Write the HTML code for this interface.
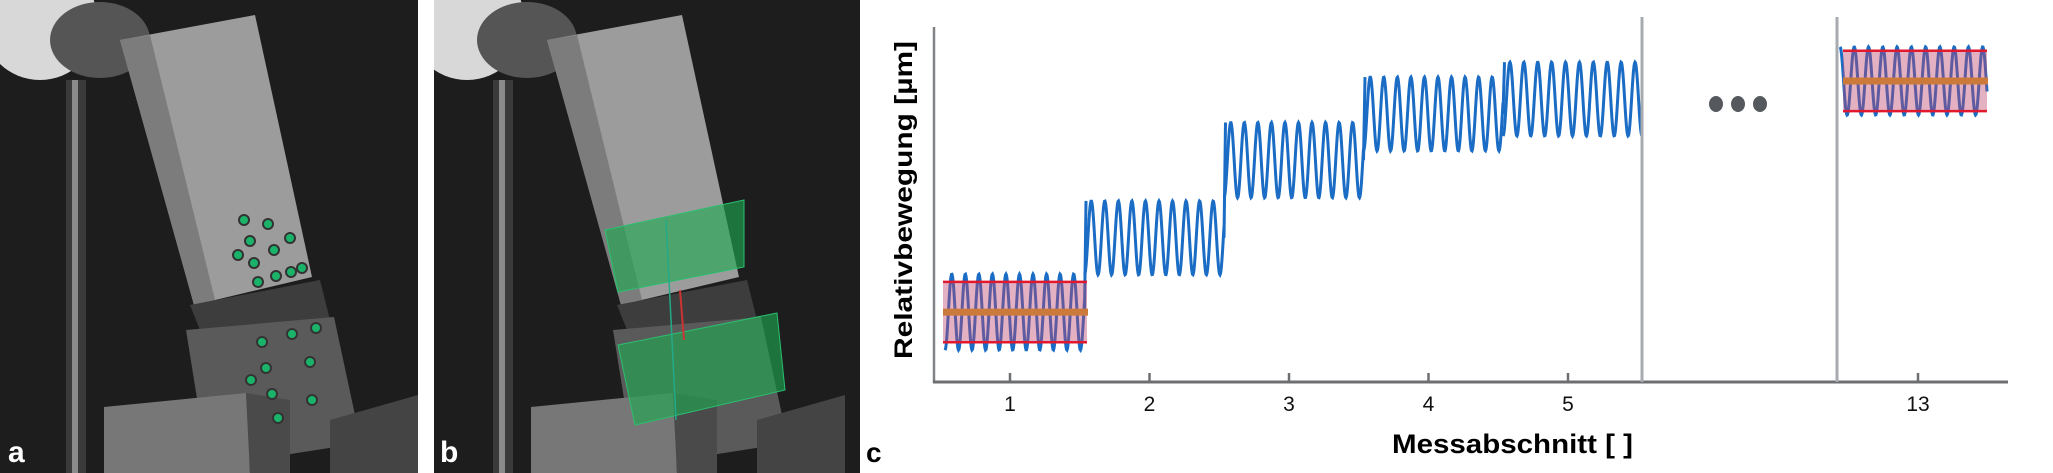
<!DOCTYPE html>
<html><head><meta charset="utf-8"><style>
html,body{margin:0;padding:0;background:#fff;}
svg{display:block;}
</style></head><body>
<svg id="fig" width="2053" height="473" viewBox="0 0 2053 473" xmlns="http://www.w3.org/2000/svg">
<defs>
<clipPath id="ca"><rect x="0" y="0" width="418" height="473"/></clipPath>
<clipPath id="cb"><rect x="434" y="0" width="426" height="473"/></clipPath>
</defs>
<!-- Photo panel a -->
<g clip-path="url(#ca)">
  <rect x="0" y="0" width="418" height="473" fill="#1d1d1d"/>
  <rect x="66" y="80" width="20" height="393" fill="#3a3a3a"/>
  <rect x="72" y="80" width="6" height="393" fill="#8a8a8a"/>
  <ellipse cx="40" cy="22" rx="58" ry="58" fill="#d8d8d8"/>
  <ellipse cx="100" cy="40" rx="50" ry="38" fill="#555"/>
  <polygon points="120,40 255,15 312,277 194,305" fill="#9c9c9c"/>
  <polygon points="120,40 150,35 215,300 194,305" fill="#7c7c7c"/>
  <polygon points="190,305 320,280 330,320 200,330" fill="#3d3d3d"/>
  <polygon points="186,330 334,317 361,443 208,467" fill="#5a5a5a"/>
  <polygon points="104,407 246,393 250,473 104,473" fill="#777"/>
  <polygon points="246,393 290,400 290,473 250,473" fill="#4a4a4a"/>
  <polygon points="330,420 418,395 418,473 330,473" fill="#444"/>
  <g fill="#1bb36a" stroke="#333" stroke-width="2">
    <circle cx="244" cy="220" r="5"/><circle cx="268" cy="224" r="5"/><circle cx="250" cy="241" r="5"/>
    <circle cx="274" cy="250" r="5"/><circle cx="238" cy="255" r="5"/><circle cx="254" cy="263" r="5"/>
    <circle cx="290" cy="238" r="5"/><circle cx="258" cy="282" r="5"/><circle cx="276" cy="276" r="5"/>
    <circle cx="291" cy="272" r="5"/><circle cx="302" cy="268" r="5"/>
    <circle cx="262" cy="342" r="5"/><circle cx="292" cy="334" r="5"/><circle cx="316" cy="328" r="5"/>
    <circle cx="266" cy="368" r="5"/><circle cx="310" cy="362" r="5"/><circle cx="251" cy="380" r="5"/>
    <circle cx="272" cy="394" r="5"/><circle cx="312" cy="400" r="5"/><circle cx="278" cy="418" r="5"/>
  </g>
  <text x="8" y="462" font-family="Liberation Sans, sans-serif" font-weight="bold" font-size="30" fill="#fff">a</text>
</g>
<!-- Photo panel b -->
<g clip-path="url(#cb)">
  <rect x="434" y="0" width="426" height="473" fill="#1d1d1d"/>
  <g transform="translate(427,0)">
  <rect x="66" y="80" width="20" height="393" fill="#3a3a3a"/>
  <rect x="72" y="80" width="6" height="393" fill="#8a8a8a"/>
  <ellipse cx="40" cy="22" rx="58" ry="58" fill="#d8d8d8"/>
  <ellipse cx="100" cy="40" rx="50" ry="38" fill="#555"/>
  <polygon points="120,40 255,15 312,277 194,305" fill="#9c9c9c"/>
  <polygon points="120,40 150,35 215,300 194,305" fill="#7c7c7c"/>
  <polygon points="190,305 320,280 330,320 200,330" fill="#3d3d3d"/>
  <polygon points="186,330 334,317 361,443 208,467" fill="#5a5a5a"/>
  <polygon points="104,407 246,393 250,473 104,473" fill="#777"/>
  <polygon points="246,393 290,400 290,473 250,473" fill="#4a4a4a"/>
  <polygon points="330,420 418,395 418,473 330,473" fill="#444"/>
  </g>
  <polygon points="605,230 744,200 744,267 618,292" fill="rgba(30,170,80,0.62)" stroke="#2bbf70" stroke-width="1"/>
  <polygon points="618,345 777,313 785,390 635,425" fill="rgba(30,170,80,0.62)" stroke="#2bbf70" stroke-width="1"/>
  <line x1="680" y1="290" x2="684" y2="340" stroke="#c33" stroke-width="2"/>
  <line x1="666" y1="220" x2="676" y2="420" stroke="#2a8" stroke-width="1.5"/>
  <text x="440" y="462" font-family="Liberation Sans, sans-serif" font-weight="bold" font-size="30" fill="#fff">b</text>
</g>

<!-- Chart c -->
<g id="chart"></g>
<line x1="934" y1="27" x2="934" y2="383" stroke="#808285" stroke-width="2.5"/>
<line x1="933" y1="382" x2="2008" y2="382" stroke="#6d6e70" stroke-width="3"/>
<line x1="1642" y1="17" x2="1642" y2="382" stroke="#a7abb0" stroke-width="3"/>
<line x1="1837" y1="17" x2="1837" y2="382" stroke="#a7abb0" stroke-width="3"/>
<g fill="#55585c">
  <ellipse cx="1716" cy="104" rx="7" ry="8"/><ellipse cx="1738" cy="104" rx="7" ry="8"/><ellipse cx="1760" cy="104" rx="7" ry="8"/>
</g>
<text transform="translate(912,200) rotate(-90)" text-anchor="middle" font-family="Liberation Sans, sans-serif" font-weight="bold" font-size="25" textLength="318" lengthAdjust="spacingAndGlyphs" fill="#000">Relativbewegung [µm]</text>
<text x="1392" y="453" font-family="Liberation Sans, sans-serif" font-weight="bold" font-size="27" textLength="241" lengthAdjust="spacingAndGlyphs" fill="#000">Messabschnitt [ ]</text>
<text x="866" y="462" font-family="Liberation Sans, sans-serif" font-weight="bold" font-size="28" fill="#000">c</text>

<script>
const categories = ["1", "2", "3", "4", "5", "13"];
const sectionMeans = [19.7, 40.6, 62.5, 75.5, 79.7, 84.8];
const sectionAmplitudes = [10.7, 10.4, 10.6, 10.4, 10.4, 9.6];
const cyclesPerSection = [10.3, 10.3, 10.3, 10.3, 10.0, 10.3];
const bandSections = [0, 5];
const bandHalfWidths = [8.5, 8.5];

const NS = "http://www.w3.org/2000/svg";
const chart = document.getElementById("chart");
// axis functions
const Y0 = 382, YPX = 3.55;
function yScale(v){ return Y0 - v * YPX; }
const secStart = [945, 1084.5, 1224, 1363.5, 1503, 1840];
const secWidth = [139.5, 139.5, 139.5, 139.5, 139, 147];
function xStart(i){ return secStart[i]; }
function xTick(i){ return i < 5 ? secStart[i] + 65 : 1918; }

function mk(tag){ return document.createElementNS(NS, tag); }

// waves
categories.forEach((c, i) => {
  const x0 = xStart(i), w = secWidth[i], P = w / cyclesPerSection[i];
  const m = sectionMeans[i], a = sectionAmplitudes[i];
  const phase = (i === 5) ? 0 : Math.PI;
  let d = "";
  for (let k = 0; k <= w * 2; k++) {
    const x = x0 + k / 2;
    const v = m + a * Math.cos(2 * Math.PI * (x - x0) / P + phase);
    d += (k ? "L" : "M") + x.toFixed(1) + "," + yScale(v).toFixed(1);
  }
  const p = mk("path");
  p.setAttribute("d", d);
  p.setAttribute("fill", "none");
  p.setAttribute("stroke", "#1a6cc4");
  p.setAttribute("stroke-width", "3");
  
  
  chart.appendChild(p);
  if (i > 0 && i < 5) {
    const j = mk("line");
    const px = xStart(i);
    j.setAttribute("x1", px); j.setAttribute("x2", px + 1.5);
    j.setAttribute("y1", yScale(sectionMeans[i-1])); j.setAttribute("y2", yScale(m + a));
    j.setAttribute("stroke", "#1a6cc4"); j.setAttribute("stroke-width", "3");
    
    
    chart.appendChild(j);
  }
});

// bands
bandSections.forEach((i, b) => {
  const x0 = xStart(i) + (i === 5 ? 3 : -2), w = (i === 5 ? 144 : 144);
  const m = sectionMeans[i], h = bandHalfWidths[b];
  const r = mk("rect");
  r.setAttribute("x", x0); r.setAttribute("width", w);
  r.setAttribute("y", yScale(m + h)); r.setAttribute("height", yScale(m - h) - yScale(m + h));
  r.setAttribute("fill", "rgba(190,70,110,0.42)");
  
  
  chart.appendChild(r);
  [m + h, m - h].forEach((v, q) => {
    const l = mk("line");
    l.setAttribute("x1", x0); l.setAttribute("x2", x0 + w);
    l.setAttribute("y1", yScale(v)); l.setAttribute("y2", yScale(v));
    l.setAttribute("stroke", "#e0192f"); l.setAttribute("stroke-width", "2.5");
    
    
    chart.appendChild(l);
  });
  const o = mk("line");
  o.setAttribute("x1", x0); o.setAttribute("x2", x0 + w + 1);
  o.setAttribute("y1", yScale(m)); o.setAttribute("y2", yScale(m));
  o.setAttribute("stroke", "#cc7a3c"); o.setAttribute("stroke-width", "7");
  
  
  chart.appendChild(o);
});

// ticks
categories.forEach((c, i) => {
  const x = xTick(i);
  const t = mk("line");
  t.setAttribute("x1", x); t.setAttribute("x2", x);
  t.setAttribute("y1", 373); t.setAttribute("y2", 382);
  t.setAttribute("stroke", "#6d6e70"); t.setAttribute("stroke-width", "2.5");
  
  
  chart.appendChild(t);
  const tx = mk("text");
  tx.setAttribute("x", x); tx.setAttribute("y", 411);
  tx.setAttribute("text-anchor", "middle");
  tx.setAttribute("font-family", "Liberation Sans, sans-serif");
  tx.setAttribute("font-size", "21");
  tx.setAttribute("fill", "#111");
  tx.textContent = c;
  
  
  chart.appendChild(tx);
});
</script>
</svg>
</body></html>
